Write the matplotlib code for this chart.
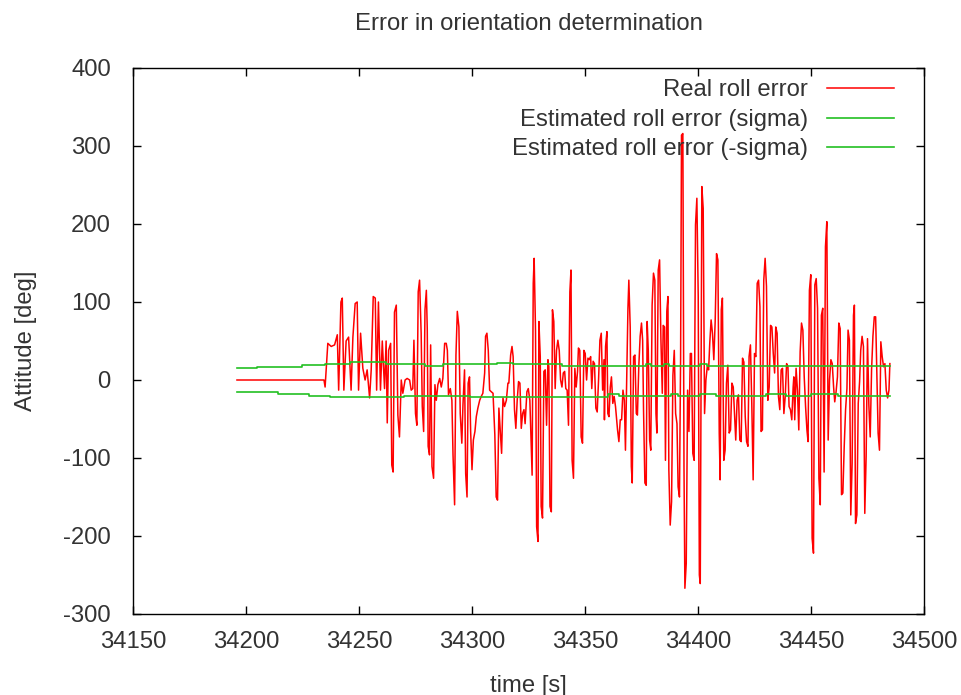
import matplotlib
matplotlib.use("Agg")
import matplotlib.pyplot as plt

plt.rcParams['font.family'] = ['Liberation Sans', 'DejaVu Sans']

# Real roll error (time [s], value [deg])
real_t = [34196, 34234.5, 34235.0, 34236.2, 34237.7, 34239.2, 34240.4, 34241.0, 34242.0, 34242.6,
          34243.3, 34244.3, 34245.4, 34246.5, 34247.3, 34248.3, 34249.2, 34249.8, 34250.7, 34251.7,
          34252.7, 34253.6, 34254.7, 34255.4, 34256.3, 34257.2, 34257.8, 34258.6, 34259.5, 34260.3,
          34261.3, 34262.0, 34262.5, 34263.1, 34264.0, 34264.5, 34265.1, 34265.7, 34266.5, 34267.2,
          34267.9, 34268.7, 34269.4, 34270.4, 34271.3, 34272.4, 34273.1, 34273.8,
          34274.3, 34275.0, 34275.6, 34276.2, 34276.8, 34277.5, 34278.0, 34278.6, 34279.2, 34279.8,
          34280.2, 34280.6, 34281.2, 34281.7, 34282.3, 34283.0, 34283.6, 34284.2, 34284.9, 34285.7,
          34286.4, 34287.1, 34287.9, 34288.6, 34289.1, 34289.6, 34290.4, 34291.1, 34291.6, 34292.3,
          34292.9, 34293.5, 34294.2, 34294.8, 34295.5, 34296.0, 34296.7, 34297.2, 34297.8, 34298.3,
          34298.9, 34299.4, 34300.0, 34300.6, 34301.3, 34301.9, 34302.6, 34303.4, 34304.1, 34304.8,
          34305.6, 34306.0, 34306.6, 34307.2, 34307.8, 34308.5, 34309.3, 34310.1, 34310.7, 34311.3,
          34311.9, 34312.5, 34313.1, 34313.7, 34314.4, 34315.2, 34315.9,
          34316.3, 34317.1, 34317.7, 34318.2, 34318.8, 34319.4, 34320.0, 34320.6, 34321.2, 34321.8,
          34322.4, 34323.0, 34323.5, 34324.3, 34324.9, 34325.6, 34326.2, 34326.6, 34327.1, 34327.5,
          34328.1, 34328.6, 34329.2, 34329.6, 34330.2, 34330.6, 34331.2, 34331.8, 34332.4, 34333.0,
          34333.6, 34334.0, 34334.5, 34335.1, 34335.6, 34336.2, 34336.8, 34337.4, 34338.0, 34338.6,
          34339.2, 34339.8, 34340.4, 34341.0, 34341.5, 34342.1, 34342.7, 34343.3, 34343.8, 34344.3,
          34344.9, 34345.5, 34346.1, 34346.7, 34347.1, 34347.7, 34348.3, 34348.9, 34349.5, 34350.1,
          34350.7, 34351.3, 34351.9, 34352.5, 34353.0, 34353.6, 34354.2, 34354.8, 34355.4, 34356.0,
          34356.6, 34357.2, 34357.8,
          34358.4, 34358.6, 34359.1, 34359.7, 34360.1, 34360.6, 34361.2, 34361.7, 34362.3, 34362.9,
          34363.5, 34364.4, 34365.0, 34365.6, 34366.2, 34366.8, 34367.4, 34367.9, 34368.5, 34369.0,
          34369.4, 34370.0, 34370.5, 34370.9, 34371.5, 34372.1, 34372.7, 34373.2, 34373.8, 34374.4,
          34375.0, 34375.5, 34375.9, 34376.5, 34377.1, 34377.5, 34378.0, 34378.6, 34379.1, 34379.7,
          34380.3, 34380.9, 34381.4, 34381.8, 34382.4, 34383.0, 34383.6, 34384.2, 34384.6, 34385.2,
          34385.6, 34386.2, 34386.7, 34387.1, 34387.7, 34388.3, 34388.9, 34389.5, 34390.1, 34390.7,
          34391.2, 34391.8, 34392.3, 34392.7, 34393.3, 34393.8, 34394.2, 34394.8, 34395.4, 34396.0,
          34396.6, 34397.1, 34397.7, 34398.3, 34398.9, 34399.5, 34400.1,
          34400.6, 34401.0, 34401.7, 34402.3, 34402.9, 34403.5, 34404.1, 34404.7, 34405.2, 34405.8,
          34406.4, 34407.0, 34407.6, 34408.2, 34408.8, 34409.4, 34409.8, 34410.3, 34410.8, 34411.4,
          34412.0, 34412.6, 34413.2, 34413.8, 34414.4, 34415.0, 34415.6, 34416.2, 34416.7, 34417.3,
          34417.9, 34418.5, 34419.1, 34419.7, 34420.3, 34420.9, 34421.5, 34422.1, 34422.6, 34423.2,
          34423.8, 34424.4, 34425.0, 34425.6, 34426.2, 34426.8, 34427.4, 34427.9, 34428.5, 34429.1,
          34429.7, 34430.3, 34430.9, 34431.5, 34432.1, 34432.7, 34433.3, 34433.9, 34434.4, 34435.0,
          34435.6, 34436.2, 34436.8, 34437.4, 34438.0, 34438.6, 34439.2, 34439.8, 34440.3, 34440.9,
          34441.5, 34442.1,
          34442.4, 34442.8, 34443.4, 34444.0, 34444.6, 34445.2, 34445.8, 34446.4, 34447.0, 34447.6,
          34448.2, 34448.7, 34449.3, 34449.9, 34450.5, 34451.1, 34451.7, 34452.3, 34452.9, 34453.5,
          34454.1, 34454.6, 34455.2, 34455.8, 34456.4, 34457.0, 34457.6, 34458.2, 34458.8, 34459.4,
          34460.0, 34460.5, 34461.1, 34461.7, 34462.3, 34462.9, 34463.5, 34464.1, 34464.7, 34465.3,
          34465.9, 34466.4, 34467.0, 34467.6, 34468.2, 34468.8, 34469.2, 34469.7, 34470.3, 34470.9,
          34471.5, 34472.0, 34472.6, 34473.2, 34473.8, 34474.4, 34475.0, 34475.6, 34476.2, 34476.8,
          34477.4, 34478.0, 34478.6, 34479.1, 34479.7, 34480.3, 34480.9, 34481.5, 34482.1, 34482.7,
          34483.3, 34483.9, 34484.5, 34484.9]
real_v = [0, 0, -9, 47, 43, 45, 58, -13, 100, 105,
          -13, 50, 55, -13, 55, 98, 100, -13, 60, 15,
          0, 13, -23, 13, 107, 105, -13, 100, -13, 50,
          -11, 50, -55, 38, 47, -109, -118, 87, 96, -45,
          -73, 0, -17, 0, 2, 0, -13, -11,
          51, -43, -58, 113, 128, 60, -34, -66, 90, 115,
          66, -85, -96, 45, -111, -126, -6, -26, -6, 2,
          -9, 2, 47, 47, 38, -19, -11, -26, -96, -160,
          32, 88, 68, -43, -81, -32, 13, -120, -150, -4,
          4, -66, -115, -77, -66, -47, -36, -26, -21, -17,
          9, 56, 60, 38, -13, -15, -17, -70, -150, -154,
          -36, -66, -94, -23, -34, -26, -4,
          -4, 32, 43, 30, -38, -62, -26, -2, -4, -62,
          -43, -38, -56, -15, -11, -26, -81, -122, 124, 156,
          64, -188, -207, 75, 30, -162, -177, 11, 13, -58,
          26, 17, -162, -169, 90, 75, -11, 38, 51, 38,
          0, -9, 9, 11, -11, -13, -58, 113, 141, -103,
          -126, 15, -9, 11, 41, 38, -73, -81, 38, 34,
          0, 28, 26, 30, -11, 24, 21, -36, -41, 0,
          51, 60, -13,
          26, -51, 43, 62, -43, -47, -9, 4, -30, -21,
          -34, -64, -79, -51, -51, -13, -26, -90, 9, 92,
          128, 68, -111, -132, 30, 32, -43, -45, 17, 56,
          73, 51, -38, -132, -135, 75, 38, -77, -90, 96,
          137, 128, -43, -68, 141, 154, 51, -17, 70, 68,
          -103, 88, 107, -115, -186, -156, 6, 38, -43, -56,
          -137, -150, 28, 314, 316, -111, -267, -235, -13, -66,
          34, 34, -94, -103, 199, 233, 107,
          -250, -261, 248, 220, -43, 0, 17, 13, 47, 77,
          60, 26, 75, 162, 154, -68, -128, 90, 105, -103,
          -90, -4, 19, -68, -64, -4, -9, -47, -77, -26,
          -19, -77, -79, 28, 23, -47, -79, -85, 30, 45,
          -30, -128, 34, 30, 124, 128, 94, -66, -64, 128,
          156, 120, -26, -9, 70, 68, 34, 9, 68, 60,
          -21, -38, 13, 15, -43, -21, 21, 17, -34, -38,
          -51, -9,
          4, -51, 15, -13, -64, 36, 73, 64, 4, -34,
          -64, -79, 115, 135, -203, -222, 122, 130, 92, -126,
          -160, 83, 92, -118, 171, 203, -77, 0, 26, 21,
          -9, -28, -15, 4, 73, 66, -147, -145, -85, -38,
          -11, 64, 51, -173, -107, 83, 96, -184, -173, -30,
          -2, 38, 56, 43, -171, -98, 53, -32, -73, 13,
          56, 81, 81, 13, -68, -90, 49, 30, 17, 21,
          -13, -23, -13, 21]

# Estimated roll error (sigma) - step changes
sig_t = [34196, 34205, 34225, 34235, 34246, 34262, 34279, 34287, 34311, 34318,
         34340, 34377, 34379, 34385, 34387, 34401, 34404, 34485]
sig_v = [15, 16.5, 19, 21, 23, 20.5, 18.5, 20.5, 22, 20.5,
         18.5, 20.5, 18.5, 20, 18.5, 21, 18.5, 18.5]

# Estimated roll error (-sigma) - step changes
nsig_t = [34196, 34214, 34228, 34237, 34270, 34299, 34360, 34365, 34388, 34391,
          34401, 34408, 34430, 34439, 34450, 34462, 34485]
nsig_v = [-16, -18, -20, -22, -20, -22, -18, -20.5, -18.5, -20,
          -18, -20, -18, -20, -18, -20, -20]

xticks = [34150, 34200, 34250, 34300, 34350, 34400, 34450, 34500]
yticks = [-300, -200, -100, 0, 100, 200, 300, 400]

fig = plt.figure(figsize=(9.61, 6.95), dpi=100)
ax = fig.add_axes([133/961, 1 - 614/695, (924 - 133)/961, (614 - 68)/695])

FS = 17.2
TXT = '#333333'
GREEN = '#22c022'
ax.plot(real_t, real_v, color='#ff0000', lw=1.1, label='Real roll error')
ax.step(sig_t, sig_v, where='post', color=GREEN, lw=1.2, label='Estimated roll error (sigma)')
ax.step(nsig_t, nsig_v, where='post', color=GREEN, lw=1.2, label='Estimated roll error (-sigma)')

ax.set_xlim(34150, 34500)
ax.set_ylim(-300, 400)
ax.set_xticks(xticks)
ax.set_yticks(yticks)
ax.set_xticklabels([str(v) for v in xticks])
ax.set_yticklabels([str(v) for v in yticks])
ax.tick_params(direction='in', length=6, width=1, top=True, right=True,
               labelsize=FS, colors='black', labelcolor=TXT)
ax.tick_params(axis='y', pad=16)
ax.tick_params(axis='x', pad=12)
for s in ax.spines.values():
    s.set_linewidth(1.0)
    s.set_color('black')

ax.set_title('Error in orientation determination', fontsize=FS, color=TXT, pad=27)
ax.set_xlabel('time [s]', fontsize=FS, color=TXT, labelpad=16)
ax.set_ylabel('Attitude [deg]', fontsize=FS, color=TXT, labelpad=19)

leg = ax.legend(loc='upper right', bbox_to_anchor=(0.962, 0.979), frameon=False,
                markerfirst=False, fontsize=FS, handlelength=2.8, handletextpad=0.8,
                labelspacing=0.31, borderpad=0, borderaxespad=0)
for txt in leg.get_texts():
    txt.set_color(TXT)

fig.savefig('out.png', dpi=100)
